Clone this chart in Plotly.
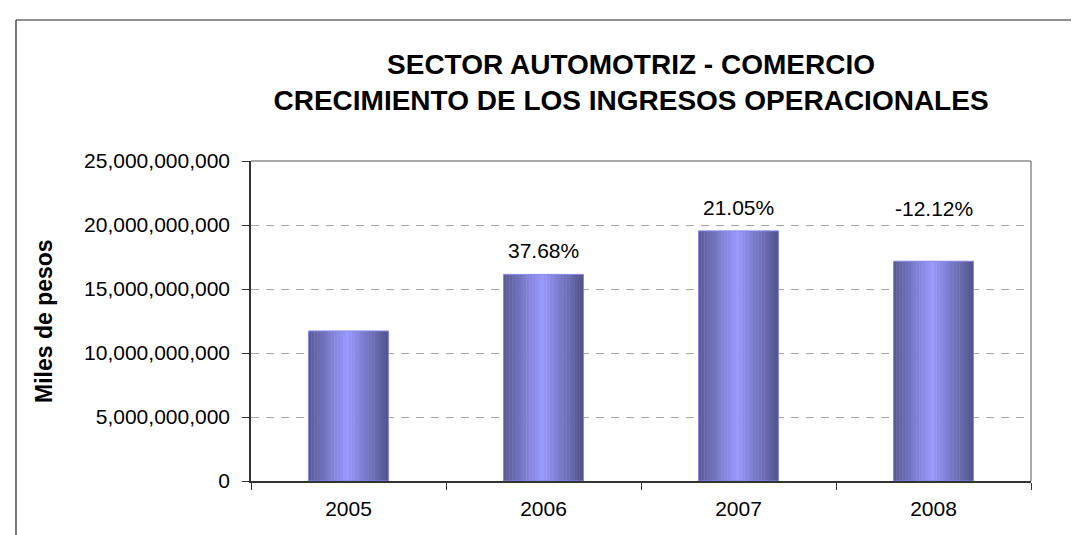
import plotly.graph_objects as go

# ---- data ----
years = ["2005", "2006", "2007", "2008"]
ingresos = [11720000000, 16140000000, 19540000000, 17170000000]  # miles de pesos
crecimiento = [None, 37.68, 21.05, -12.12]  # % growth vs previous year
y_ticks = [0, 5000000000, 10000000000, 15000000000, 20000000000, 25000000000]

title_lines = ["SECTOR AUTOMOTRIZ - COMERCIO", "CRECIMIENTO DE LOS INGRESOS OPERACIONALES"]
y_title = "Miles de pesos"

# ---- style ----
FONT = "Liberation Sans, Arial, sans-serif"
W, H = 1079, 535
ML, MR, MT, MB = 243, 56, 153, 62
bar_width = 0.41
n_strips = 28
dark = (82, 84, 138)
light = (153, 153, 255)
label_shift = [0, 24, 23, 53]  # pixel offset of growth labels above bars

fig = go.Figure()

# gradient bars built from vertical strips
sw = bar_width / n_strips
for i in range(n_strips):
    c = (i + 0.5) / n_strips  # 0..1
    t = abs(c - 0.48) / 0.52
    t = min(t, 1.0)
    col = tuple(int(round(light[k] + (dark[k] - light[k]) * t)) for k in range(3))
    fig.add_trace(go.Bar(
        x=years, y=ingresos,
        width=sw * 1.15, offset=-bar_width / 2 + i * sw,
        marker=dict(color="rgb(%d,%d,%d)" % col, line=dict(width=0)),
        showlegend=False, hoverinfo="skip",
    ))
# outline
fig.add_trace(go.Bar(
    x=years, y=ingresos, width=bar_width, offset=-bar_width / 2,
    marker=dict(color="rgba(0,0,0,0)", line=dict(color="rgb(135,135,235)", width=1)),
    showlegend=False,
))

# growth labels (x given as category index)
for i, (v, g) in enumerate(zip(ingresos, crecimiento)):
    if g is None:
        continue
    fig.add_annotation(xref="x", yref="y", x=i, y=v, text=f"{g:.2f}%", showarrow=False,
                       yshift=label_shift[i], yanchor="middle", xanchor="center",
                       font=dict(family=FONT, size=21, color="black"))

# y-axis title
fig.add_annotation(xref="paper", yref="paper", x=(36 - ML) / (W - ML - MR), y=0.5,
                   text=f"<b>{y_title}</b>", textangle=-90, showarrow=False,
                   xanchor="center", yanchor="middle",
                   font=dict(family=FONT, size=23, color="black"))

pw = W - ML - MR
ph = H - MT - MB
# plot frame (top + right) in gray, outer chart border (left + top) in black
fig.add_shape(type="line", xref="paper", yref="paper", x0=0, x1=1, y0=1, y1=1,
              line=dict(color="#8c8c8c", width=1.5), layer="above")
fig.add_shape(type="line", xref="paper", yref="paper", x0=1, x1=1, y0=0, y1=1,
              line=dict(color="#8c8c8c", width=1.5), layer="above")
fig.add_shape(type="line", xref="paper", yref="paper",
              x0=(8 - ML) / pw, x1=(8 - ML) / pw, y0=(ph + MT - 12) / ph, y1=-(MB + 20) / ph,
              line=dict(color="#222", width=1.2), layer="above")
fig.add_shape(type="line", xref="paper", yref="paper",
              x0=(8 - ML) / pw, x1=(W + 20 - ML) / pw, y0=(ph + MT - 12) / ph, y1=(ph + MT - 12) / ph,
              line=dict(color="#222", width=1.2), layer="above")

fig.update_layout(
    width=W, height=H,
    margin=dict(l=ML, r=MR, t=MT, b=MB, autoexpand=False),
    template="none",
    paper_bgcolor="white", plot_bgcolor="white",
    barmode="overlay",
    font=dict(family=FONT, size=21, color="black"),
    title=dict(text="<b>" + "<br>".join(title_lines) + "</b>",
               xref="container", yref="container",
               x=623 / W, y=1 - 66 / H, xanchor="center", yanchor="middle",
               font=dict(family=FONT, size=28, color="black")),
    showlegend=False,
)
fig.update_xaxes(type="category", range=[-0.5, 3.5], tickson="boundaries",
                 ticks="outside", ticklen=7, tickcolor="#333", tickwidth=1.2,
                 showline=True, linecolor="#333", linewidth=1.5,
                 showgrid=False, zeroline=False, automargin=False,
                 tickfont=dict(family=FONT, size=21, color="black"),
                 ticklabelstandoff=8)
fig.update_yaxes(range=[0, 25000000000], tickvals=y_ticks, tickformat=",d",
                 ticks="outside", ticklen=7, tickcolor="#333", tickwidth=1.2,
                 showline=True, linecolor="#333", linewidth=1.5,
                 showgrid=True, gridcolor="#a6a6a6", gridwidth=1.2, griddash="8px,7px",
                 zeroline=False, automargin=False,
                 tickfont=dict(family=FONT, size=21, color="black"),
                 ticklabelstandoff=8)

fig.write_html("out.html")
